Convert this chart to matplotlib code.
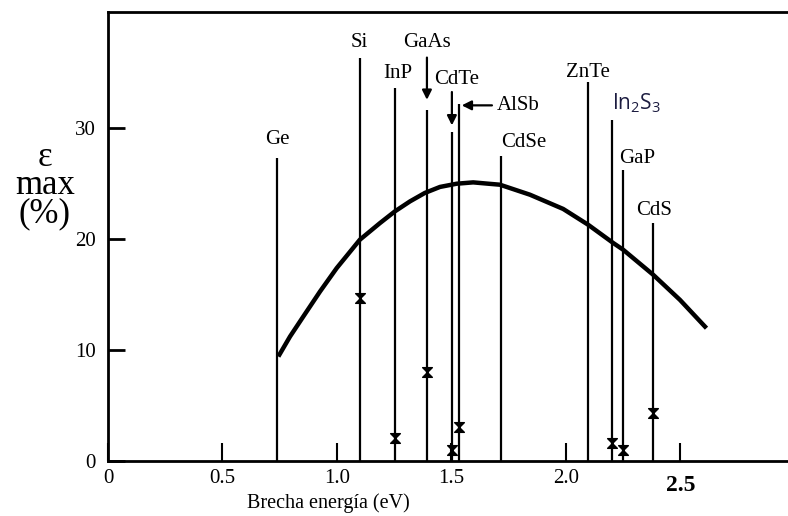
import matplotlib
matplotlib.use("Agg")
import matplotlib.pyplot as plt
from matplotlib.path import Path

plt.rcParams['font.family'] = ['Liberation Serif', 'DejaVu Serif']

# band gap (eV) and height of each material line
materials = ['Ge', 'Si', 'InP', 'GaAs', 'CdTe', 'AlSb', 'CdSe', 'ZnTe', 'In2S3', 'GaP', 'CdS']
gaps = [0.738, 1.10, 1.253, 1.393, 1.502, 1.533, 1.716, 2.096, 2.20, 2.249, 2.38]
line_tops = [27.3, 36.3, 33.6, 31.6, 29.6, 32.1, 27.4, 34.1, 30.7, 26.2, 21.4]

# measured efficiencies (x marks)
meas_gap = [1.10, 1.253, 1.393, 1.502, 1.533, 2.20, 2.249, 2.38]
meas_eff = [14.7, 2.1, 8.0, 1.0, 3.1, 1.6, 1.0, 4.3]

# theoretical max efficiency curve
curve_gap = [0.744, 0.795, 0.853, 0.926, 0.999, 1.100, 1.188, 1.253, 1.319, 1.384,
             1.450, 1.523, 1.595, 1.661, 1.712, 1.843, 1.988, 2.097, 2.207, 2.250,
             2.381, 2.498, 2.614]
curve_eff = [9.40, 11.20, 13.00, 15.25, 17.36, 19.91, 21.41, 22.46, 23.36, 24.12,
             24.66, 24.95, 25.07, 24.95, 24.86, 23.96, 22.68, 21.26, 19.61, 19.01,
             16.76, 14.50, 11.95]

# label anchor points
lab_x = [0.738, 1.096, 1.266, 1.393, 1.524, 1.699, 1.817, 2.096, 2.20, 2.31, 2.384]
lab_y = [28.9, 37.7, 34.9, 37.7, 34.3, 32.0, 28.7, 35.0, 32.2, 27.2, 22.5]

fig = plt.figure(figsize=(7.88, 5.16), dpi=100)
ax = fig.add_axes([108/788, 55/516, 680/788, 449/516])

ax.vlines(gaps, 0, line_tops, color='black', lw=1.6)
ax.plot(curve_gap, curve_eff, color='black', lw=3.2, solid_capstyle='butt',
        solid_joinstyle='round')

hourglass = Path([(-1, 1), (1, 1), (-1, -1), (1, -1), (-1, 1)],
                 [Path.MOVETO, Path.LINETO, Path.LINETO, Path.LINETO, Path.CLOSEPOLY])
ax.plot(meas_gap, meas_eff, linestyle='none', marker=hourglass, markersize=7,
        color='black')

for name, x, y in zip(materials, lab_x, lab_y):
    if name == 'In2S3':
        ax.text(x, y, r'In$_{\mathregular{2}}$S$_{\mathregular{3}}$', ha='left', va='center',
                fontsize=15, family=['Open Sans', 'DejaVu Sans'], color='#1c1c40')
    elif name == 'AlSb':
        ax.text(x, y, name, ha='left', va='center', fontsize=15)
    else:
        ax.text(x, y, name, ha='center', va='center', fontsize=15)

# arrows for GaAs, CdTe and AlSb
arrow = dict(arrowstyle='-|>', color='black', lw=1.6, mutation_scale=14, shrinkA=0, shrinkB=0)
ax.annotate('', xy=(1.393, 32.5), xytext=(1.393, 36.3), arrowprops=arrow)
ax.annotate('', xy=(1.502, 30.2), xytext=(1.502, 33.2), arrowprops=arrow)
ax.annotate('', xy=(1.545, 32.0), xytext=(1.677, 32.0), arrowprops=arrow)

ax.set_xlim(0, 2.97)
ax.set_ylim(0, 40.4)
ax.set_xticks([0, 0.5, 1.0, 1.5, 2.0, 2.5])
ax.set_xticklabels(['0', '0.5', '1.0', '1.5', '2.0', ''])
ax.set_yticks([0, 10, 20, 30])
ax.tick_params(axis='y', direction='in', length=12, width=2, labelsize=15, pad=9)
ax.tick_params(axis='x', direction='in', length=13, width=1.5, labelsize=15, pad=6)
ax.annotate('2.5', xy=(2.5, 0), xycoords=('data', 'axes fraction'), xytext=(0, -10),
            textcoords='offset points', ha='center', va='top', fontsize=17, fontweight='bold')

for side in ['left', 'top', 'bottom']:
    ax.spines[side].set_linewidth(2)
ax.spines['right'].set_visible(False)

fig.text(328/788, 1 - 503/516, 'Brecha energía (eV)', ha='center', va='center', fontsize=14.5)
fig.text(45/788, 1 - 186/516, 'ε\nmax\n(%)', ha='center', va='center', multialignment='center',
         fontsize=25, linespacing=0.8)

fig.savefig('out.png', dpi=100)
